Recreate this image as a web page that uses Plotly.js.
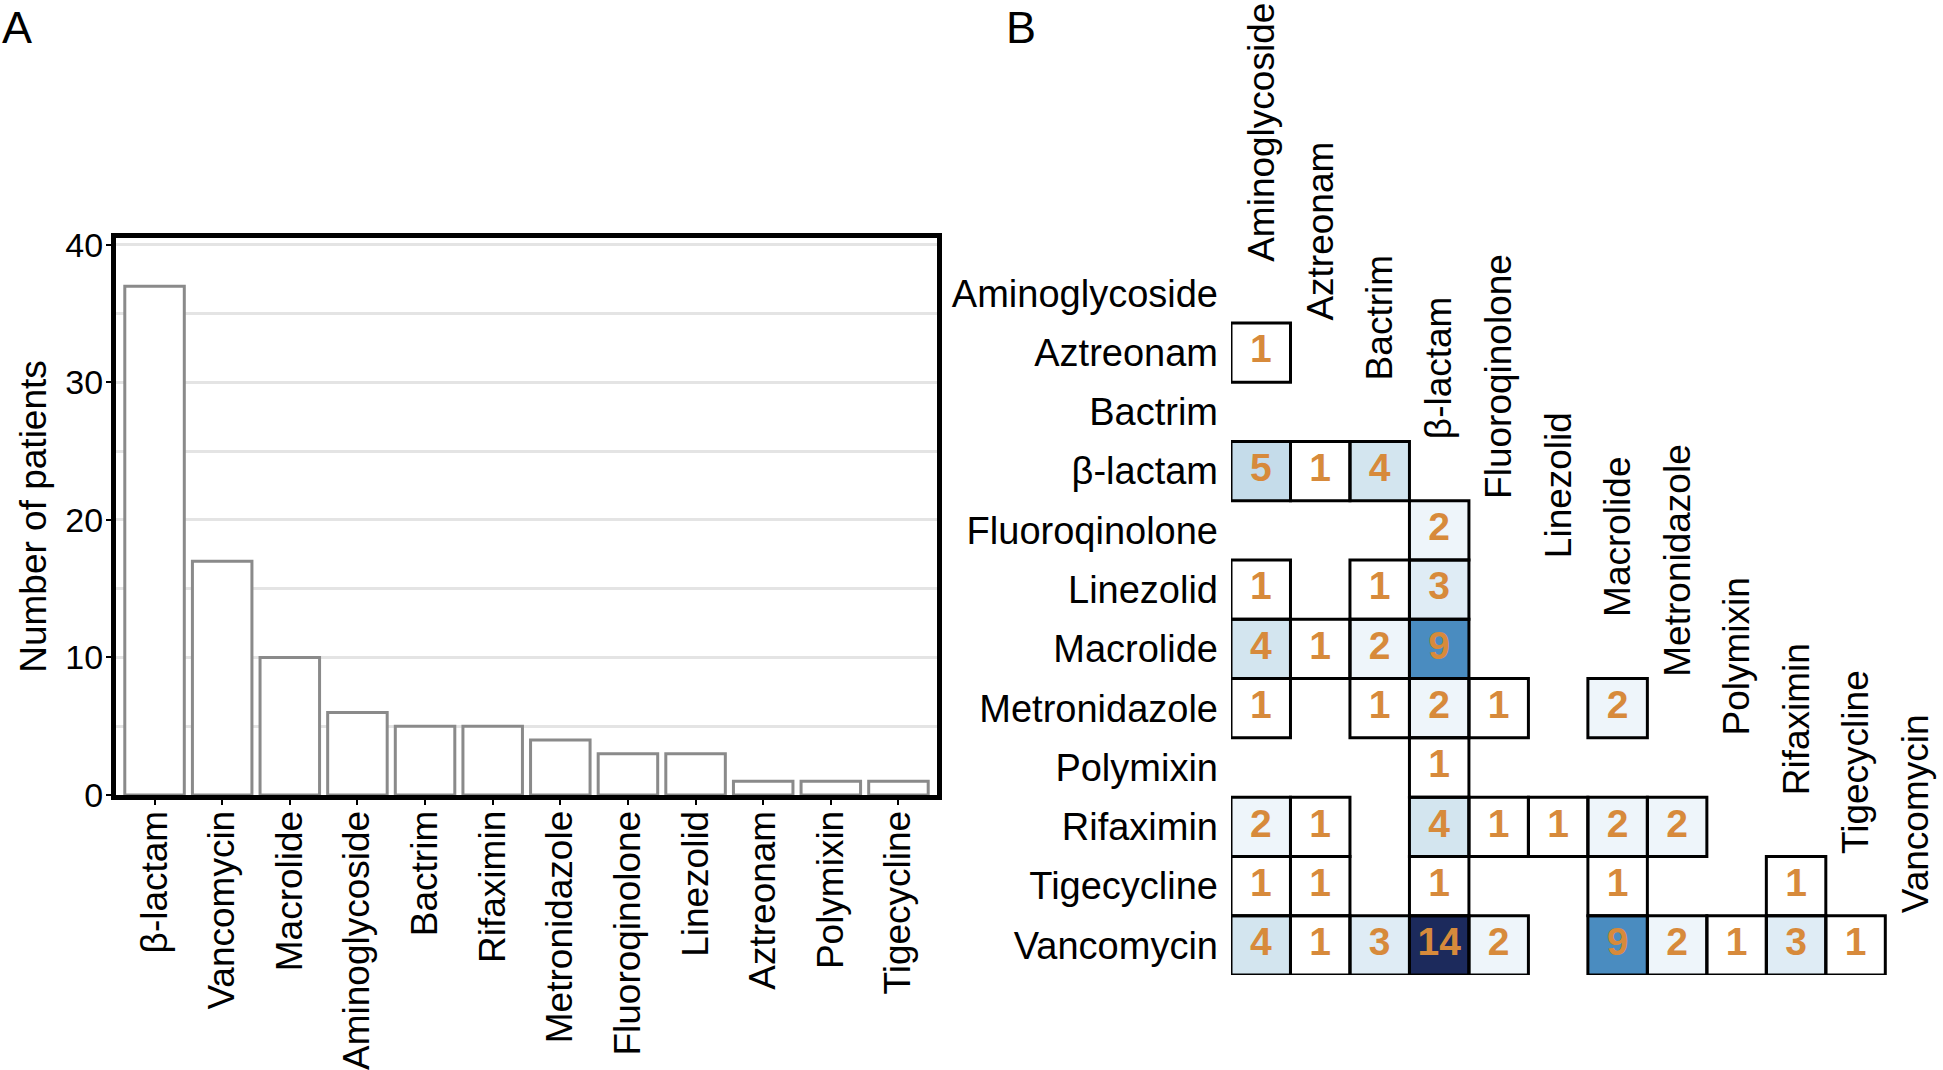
<!DOCTYPE html>
<html>
<head>
<meta charset="utf-8">
<script src="https://cdn.plot.ly/plotly-3.0.1.min.js"></script>
<style>
  html, body { margin: 0; padding: 0; background: #fff; }
  #chart { width: 1943px; height: 1070px; }
</style>
</head>
<body>
<div id="chart"></div>
<script>
// Panel A: patients per antibiotic class
const barDrugs = ["β-lactam", "Vancomycin", "Macrolide", "Aminoglycoside", "Bactrim", "Rifaximin",
  "Metronidazole", "Fluoroqinolone", "Linezolid", "Aztreonam", "Polymixin", "Tigecycline"];
const barCounts = [37, 17, 10, 6, 5, 5, 4, 3, 3, 1, 1, 1];

// Panel B: co-prescription counts (lower triangle, rows x columns)
const drugs = ["Aminoglycoside", "Aztreonam", "Bactrim", "β-lactam", "Fluoroqinolone", "Linezolid",
  "Macrolide", "Metronidazole", "Polymixin", "Rifaximin", "Tigecycline", "Vancomycin"];
const pairCounts = [
  [],
  [1],
  [],
  [5, 1, 4],
  [null, null, null, 2],
  [1, null, 1, 3],
  [4, 1, 2, 9],
  [1, null, 1, 2, 1, null, 2],
  [null, null, null, 1],
  [2, 1, null, 4, 1, 1, 2, 2],
  [1, 1, null, 1, null, null, 1, null, null, 1],
  [4, 1, 3, 14, 2, null, 9, 2, 1, 3, 1],
];

const W = 1943, H = 1070;
const FONT = "Liberation Sans, Arial, Helvetica, sans-serif";
const ORANGE = "#d78a3b";

// pad each row to the full width
const z = pairCounts.map((row) => drugs.map((_, j) => (row[j] === undefined ? null : row[j])));
const idx = drugs.map((_, i) => i);

const cellX = [], cellY = [], cellText = [], cellShapes = [];
z.forEach((row, i) => {
  row.forEach((v, j) => {
    if (v === null) return;
    cellX.push(j);
    cellY.push(i);
    cellText.push(String(v));
    cellShapes.push({
      type: "rect", xref: "x2", yref: "y2",
      x0: j - 0.5, x1: j + 0.5, y0: i - 0.5, y1: i + 0.5,
      line: { color: "black", width: 3 },
      fillcolor: "rgba(0,0,0,0)",
    });
  });
});

const traceBars = {
  type: "bar",
  x: barDrugs,
  y: barCounts,
  marker: { color: "white", line: { color: "#8a8a8a", width: 3 } },
  hoverinfo: "x+y",
};

const traceHeat = {
  type: "heatmap",
  x: idx,
  y: idx,
  z: z,
  xaxis: "x2",
  yaxis: "y2",
  zmin: 1,
  zmax: 14,
  colorscale: [
    [0, "#ffffff"],
    [0.077, "#eef5fa"],
    [0.154, "#dfecf5"],
    [0.231, "#d3e5ef"],
    [0.308, "#c5dcea"],
    [0.615, "#4a8cc0"],
    [1, "#1c2a5c"],
  ],
  showscale: false,
  hoverongaps: false,
};

const traceNums = {
  type: "scatter",
  mode: "text",
  x: cellX,
  y: cellY,
  text: cellText,
  xaxis: "x2",
  yaxis: "y2",
  textposition: "middle center",
  textfont: { family: FONT, size: 39, color: ORANGE, weight: "bold" },
  cliponaxis: false,
  hoverinfo: "skip",
};

// column headers sit diagonally, just above each diagonal cell
const colLabels = drugs.map((d, j) => ({
  text: d,
  xref: "x2", yref: "y2",
  x: j, y: j - 0.5,
  textangle: -90,
  xanchor: "center", yanchor: "bottom",
  showarrow: false,
  font: { size: 37, color: "black" },
}));

const layout = {
  width: W,
  height: H,
  margin: { l: 0, r: 0, t: 0, b: 0 },
  paper_bgcolor: "white",
  plot_bgcolor: "rgba(0,0,0,0)",
  font: { family: FONT, color: "black" },
  showlegend: false,
  bargap: 0.12,
  xaxis: {
    domain: [116 / W, 937 / W],
    range: [-0.57, 11.57],
    tickangle: -90,
    tickfont: { size: 37 },
    ticks: "outside", ticklen: 5, tickwidth: 2, tickcolor: "black",
    ticklabelstandoff: -9,
    showline: true, mirror: true, linewidth: 5, linecolor: "black",
    showgrid: false, zeroline: false,
  },
  yaxis: {
    domain: [1 - 795 / H, 1 - 238 / H],
    range: [0, 40.5],
    tick0: 0, dtick: 10,
    tickfont: { size: 34 },
    ticks: "outside", ticklen: 5, tickwidth: 2, tickcolor: "black",
    ticklabelstandoff: -4,
    showline: true, mirror: true, linewidth: 5, linecolor: "black",
    showgrid: true, gridcolor: "#e4e4e4", gridwidth: 2.5,
    minor: { dtick: 5, showgrid: true, gridcolor: "#e4e4e4", gridwidth: 2.5, ticks: "" },
    zeroline: false,
    title: { text: "Number of patients", font: { size: 37 }, standoff: 9 },
  },
  xaxis2: {
    anchor: "y2",
    domain: [1231 / W, 1],
    range: [-0.5, 11.47],
    visible: false,
  },
  yaxis2: {
    anchor: "x2",
    domain: [1 - 975 / H, 1 - 263.6 / H],
    range: [11.5, -0.5],
    tickvals: idx,
    ticktext: drugs,
    tickfont: { size: 38 },
    ticks: "",
    ticklabelstandoff: 12,
    showline: false, showgrid: false, zeroline: false,
  },
  shapes: cellShapes,
  annotations: [
    { text: "A", xref: "paper", yref: "paper", x: 0, y: 1, xanchor: "left", yanchor: "top",
      showarrow: false, font: { size: 45 } },
    { text: "B", xref: "paper", yref: "paper", x: 1004 / W, y: 1, xanchor: "left", yanchor: "top",
      showarrow: false, font: { size: 45 } },
    ...colLabels,
  ],
};

Plotly.newPlot("chart", [traceBars, traceHeat, traceNums], layout, { displayModeBar: false });
</script>
</body>
</html>
